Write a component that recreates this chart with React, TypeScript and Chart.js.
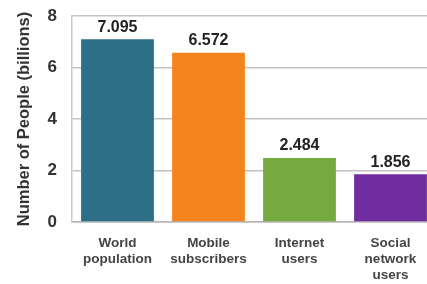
import React, { useEffect, useRef } from "react";
import { Chart, registerables } from "chart.js";

Chart.register(...registerables);

const categories: string[][] = [
  ["World", "population"],
  ["Mobile", "subscribers"],
  ["Internet", "users"],
  ["Social", "network", "users"],
];
const values: number[] = [7.095, 6.572, 2.484, 1.856];
const valueLabels: string[] = ["7.095", "6.572", "2.484", "1.856"];
const barColors: string[] = ["#2D6F86", "#F5841F", "#74AA3F", "#6F2DA0"];
const yTicks: number[] = [0, 2, 4, 6, 8];
const yTitle = "Number of People (billions)";

const FONT = "'Liberation Sans', Arial, sans-serif";

const valueLabelPlugin = {
  id: "valueLabels",
  afterDatasetsDraw(chart: any) {
    const ctx = chart.ctx;
    const meta = chart.getDatasetMeta(0);
    ctx.save();
    ctx.font = `bold 16px ${FONT}`;
    ctx.fillStyle = "#222";
    ctx.textAlign = "center";
    ctx.textBaseline = "bottom";
    meta.data.forEach((bar: any, i: number) => {
      ctx.fillText(valueLabels[i], bar.x, bar.y - 4);
    });
    ctx.restore();
  },
};

export default function App() {
  const ref = useRef<HTMLCanvasElement | null>(null);

  useEffect(() => {
    document.body.style.margin = "0";
    const canvas = ref.current!;
    const chart = new Chart(canvas, {
      type: "bar",
      data: {
        labels: categories,
        datasets: [
          {
            data: values,
            backgroundColor: barColors,
            borderWidth: 0,
            barPercentage: 0.8,
            categoryPercentage: 1,
          },
        ],
      },
      options: {
        responsive: false,
        animation: false,
        layout: { padding: { left: 6, top: 16, right: 0, bottom: 0 } },
        plugins: {
          legend: { display: false },
          tooltip: { enabled: false },
        },
        scales: {
          x: {
            grid: { display: false },
            border: { display: true, color: "#b5b5b5", width: 1.5 },
            ticks: {
              color: "#444",
              font: { family: FONT, size: 13.5, weight: "bold", lineHeight: 1.2 },
              padding: 5,
              maxRotation: 0,
              autoSkip: false,
            },
            afterFit(scale: any) {
              scale.height = 62;
              scale.paddingLeft = 0;
              scale.paddingRight = 0;
            },
          },
          y: {
            min: 0,
            max: 8,
            afterBuildTicks(scale: any) {
              scale.ticks = yTicks.map((v) => ({ value: v }));
            },
            grid: { color: "#c2c2c2", lineWidth: 1.5, drawTicks: false },
            border: { display: true, color: "#c8c8c8", width: 1.5 },
            ticks: {
              color: "#333",
              font: { family: FONT, size: 17, weight: "bold" },
              padding: 15,
            },
            title: {
              display: true,
              text: yTitle,
              color: "#333",
              font: { family: FONT, size: 16.5, weight: "bold" },
              padding: { top: 9, bottom: 0 },
            },
            afterFit(scale: any) {
              scale.width = 66;
              scale.paddingTop = 0;
              scale.paddingBottom = 0;
            },
          },
        },
      },
      plugins: [valueLabelPlugin],
    });
    return () => chart.destroy();
  }, []);

  return (
    <div style={{ width: 427, height: 284, overflow: "hidden", background: "#fff" }}>
      <canvas ref={ref} width={436} height={284} style={{ width: 436, height: 284, display: "block" }} />
    </div>
  );
}
